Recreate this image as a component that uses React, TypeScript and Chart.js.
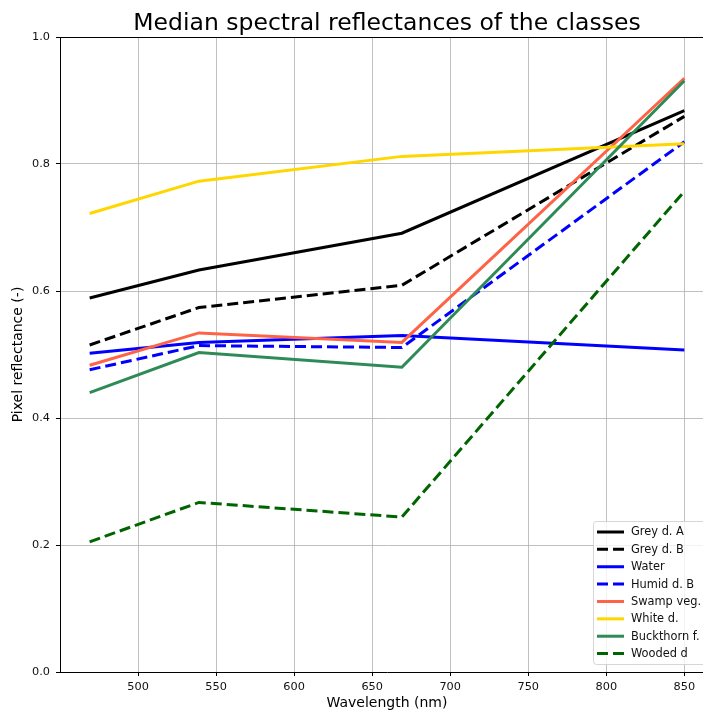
import React, { useEffect, useRef } from "react";
import { Chart, registerables } from "chart.js";

Chart.register(...registerables);

const TITLE = "Median spectral reflectances of the classes";
const X_LABEL = "Wavelength (nm)";
const Y_LABEL = "Pixel reflectance (-)";

const WAVELENGTHS = [469, 539, 669, 850];
const X_TICKS = [500, 550, 600, 650, 700, 750, 800, 850];
const Y_TICKS = [0, 0.2, 0.4, 0.6, 0.8, 1.0];

const GREY_A = [0.589, 0.633, 0.691, 0.884];
const GREY_B = [0.515, 0.574, 0.609, 0.875];
const WATER = [0.502, 0.519, 0.530, 0.507];
const HUMID_B = [0.476, 0.514, 0.511, 0.835];
const SWAMP_VEG = [0.483, 0.534, 0.519, 0.935];
const WHITE_D = [0.722, 0.773, 0.812, 0.832];
const BUCKTHORN = [0.440, 0.503, 0.480, 0.931];
const WOODED = [0.205, 0.267, 0.244, 0.757];

const SERIES = [
  { label: "Grey d. A", data: GREY_A, color: "#000000", dashed: false },
  { label: "Grey d. B", data: GREY_B, color: "#000000", dashed: true },
  { label: "Water", data: WATER, color: "#0000ff", dashed: false },
  { label: "Humid d. B", data: HUMID_B, color: "#0000ff", dashed: true },
  { label: "Swamp veg.", data: SWAMP_VEG, color: "#ff6347", dashed: false },
  { label: "White d.", data: WHITE_D, color: "#ffd700", dashed: false },
  { label: "Buckthorn f.", data: BUCKTHORN, color: "#2e8b57", dashed: false },
  { label: "Wooded d", data: WOODED, color: "#006400", dashed: true },
];

const FONT = "'DejaVu Sans', sans-serif";
const DASH = [11, 5];

const decorPlugin = {
  id: "decor",
  afterDatasetsDraw(chart: any) {
    const { ctx, chartArea } = chart;
    const { left, right, top, bottom } = chartArea;
    ctx.save();
    // spines
    ctx.strokeStyle = "#000";
    ctx.lineWidth = 1;
    ctx.beginPath();
    ctx.moveTo(left, Math.round(top) + 0.5);
    ctx.lineTo(right, Math.round(top) + 0.5);
    ctx.moveTo(Math.round(right) - 0.5, top);
    ctx.lineTo(Math.round(right) - 0.5, bottom);
    ctx.stroke();

    // legend
    const lx = 593.5;
    const ly = 521.5;
    const lw = 116;
    const lh = 143;
    const r = 3;
    ctx.beginPath();
    ctx.moveTo(lx + r, ly);
    ctx.lineTo(lx + lw - r, ly);
    ctx.quadraticCurveTo(lx + lw, ly, lx + lw, ly + r);
    ctx.lineTo(lx + lw, ly + lh - r);
    ctx.quadraticCurveTo(lx + lw, ly + lh, lx + lw - r, ly + lh);
    ctx.lineTo(lx + r, ly + lh);
    ctx.quadraticCurveTo(lx, ly + lh, lx, ly + lh - r);
    ctx.lineTo(lx, ly + r);
    ctx.quadraticCurveTo(lx, ly, lx + r, ly);
    ctx.closePath();
    ctx.fillStyle = "rgba(255,255,255,0.8)";
    ctx.fill();
    ctx.strokeStyle = "rgba(204,204,204,0.8)";
    ctx.lineWidth = 1;
    ctx.stroke();

    ctx.font = `11.4px ${FONT}`;
    ctx.textBaseline = "middle";
    ctx.textAlign = "left";
    SERIES.forEach((s, i) => {
      const y = 532 + i * 17.37;
      ctx.strokeStyle = s.color;
      ctx.lineWidth = 3;
      ctx.setLineDash(s.dashed ? DASH : []);
      ctx.beginPath();
      ctx.moveTo(597, y);
      ctx.lineTo(624, y);
      ctx.stroke();
      ctx.setLineDash([]);
      ctx.fillStyle = "#111";
      ctx.fillText(s.label, 631, y + 0.5);
    });

    // titles
    const cx = (left + right) / 2;
    ctx.fillStyle = "#000";
    ctx.textAlign = "center";
    ctx.textBaseline = "alphabetic";
    ctx.font = `23.5px ${FONT}`;
    ctx.fillText(TITLE, cx, 30);
    ctx.font = `14px ${FONT}`;
    ctx.fillText(X_LABEL, cx, 707);
    ctx.save();
    ctx.translate(18, (top + bottom) / 2);
    ctx.rotate(-Math.PI / 2);
    ctx.textBaseline = "middle";
    ctx.fillText(Y_LABEL, 0, 0);
    ctx.restore();
    ctx.restore();
  },
};

export default function App() {
  const ref = useRef<HTMLCanvasElement | null>(null);

  useEffect(() => {
    if (!ref.current) return;
    const chart = new Chart(ref.current, {
      type: "line",
      data: {
        datasets: SERIES.map((s, i) => ({
          label: s.label,
          data: s.data.map((v, j) => ({ x: WAVELENGTHS[j], y: v })),
          borderColor: s.color,
          backgroundColor: s.color,
          borderWidth: 3,
          borderDash: s.dashed ? DASH : [],
          pointRadius: 0,
          tension: 0,
          fill: false,
          order: SERIES.length - i,
        })),
      },
      options: {
        responsive: false,
        animation: false,
        layout: { padding: { top: 37, left: 0, right: 16, bottom: 0 } },
        plugins: {
          legend: { display: false },
          title: { display: false },
          tooltip: { enabled: false },
        },
        scales: {
          x: {
            type: "linear",
            min: 450,
            max: 869,
            afterBuildTicks: (scale: any) => {
              scale.ticks = X_TICKS.map((v) => ({ value: v }));
            },
            afterFit: (scale: any) => {
              scale.height = 44;
            },
            grid: {
              color: "#b0b0b0",
              lineWidth: 0.8,
              tickColor: "#000",
              tickLength: 4,
              tickWidth: 1,
            },
            border: { color: "#000", width: 1 },
            ticks: {
              padding: 4,
              maxRotation: 0,
              color: "#111",
              font: { family: FONT, size: 11.3 },
              callback: (v: any) => String(v),
            },
          },
          y: {
            type: "linear",
            min: 0,
            max: 1,
            afterBuildTicks: (scale: any) => {
              scale.ticks = Y_TICKS.map((v) => ({ value: v }));
            },
            afterFit: (scale: any) => {
              scale.width = 60;
            },
            grid: {
              color: "#b0b0b0",
              lineWidth: 0.8,
              tickColor: "#000",
              tickLength: 4,
              tickWidth: 1,
            },
            border: { color: "#000", width: 1 },
            ticks: {
              padding: 6,
              color: "#111",
              font: { family: FONT, size: 11.3 },
              callback: (v: any) => Number(v).toFixed(1),
            },
          },
        },
      },
      plugins: [decorPlugin],
    });
    return () => chart.destroy();
  }, []);

  return (
    <div
      style={{
        position: "fixed",
        left: 0,
        top: 0,
        width: 703,
        height: 710,
        overflow: "hidden",
        background: "#fff",
      }}
    >
      <canvas ref={ref} width={730} height={716} style={{ display: "block" }} />
    </div>
  );
}
